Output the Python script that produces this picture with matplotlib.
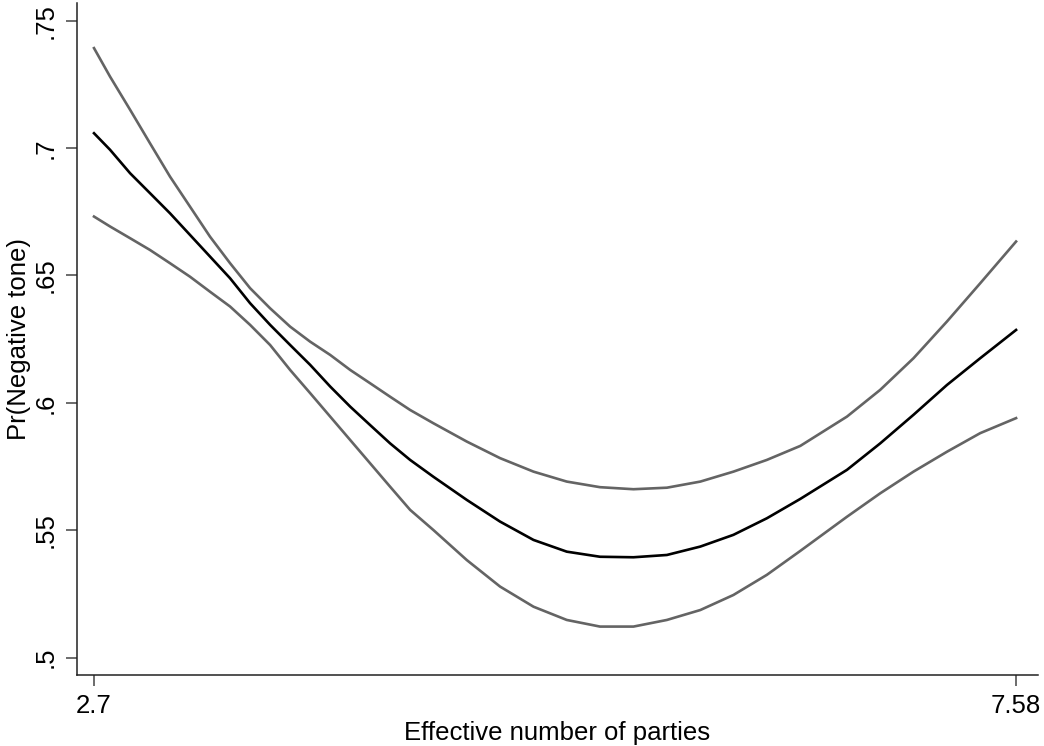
import matplotlib
matplotlib.use("Agg")
import matplotlib.pyplot as plt

plt.rcParams['font.family'] = ['Liberation Sans', 'DejaVu Sans']

enp = [2.700, 2.785, 2.891, 2.996, 3.102, 3.208, 3.314, 3.420, 3.526, 3.632,
       3.738, 3.844, 3.950, 4.056, 4.161, 4.267, 4.373, 4.496, 4.673, 4.849,
       5.026, 5.202, 5.378, 5.555, 5.732, 5.909, 6.084, 6.261, 6.438, 6.685,
       6.861, 7.037, 7.214, 7.390, 7.580]

pr_mean = [0.7058, 0.6993, 0.6901, 0.6823, 0.6744, 0.6659, 0.6574, 0.6489, 0.6391, 0.6306,
           0.6227, 0.6149, 0.6064, 0.5985, 0.5913, 0.5841, 0.5776, 0.5710, 0.5619, 0.5534,
           0.5462, 0.5416, 0.5396, 0.5394, 0.5403, 0.5436, 0.5482, 0.5547, 0.5623, 0.5737,
           0.5841, 0.5953, 0.6070, 0.6175, 0.6286]

pr_upper = [0.7392, 0.7280, 0.7150, 0.7019, 0.6888, 0.6770, 0.6652, 0.6548, 0.6450, 0.6371,
            0.6299, 0.6240, 0.6188, 0.6129, 0.6077, 0.6024, 0.5972, 0.5920, 0.5848, 0.5783,
            0.5730, 0.5691, 0.5669, 0.5661, 0.5667, 0.5691, 0.5730, 0.5776, 0.5831, 0.5946,
            0.6051, 0.6175, 0.6319, 0.6469, 0.6633]

pr_lower = [0.6731, 0.6692, 0.6646, 0.6600, 0.6548, 0.6495, 0.6436, 0.6378, 0.6306, 0.6227,
            0.6129, 0.6038, 0.5946, 0.5854, 0.5763, 0.5671, 0.5580, 0.5501, 0.5383, 0.5279,
            0.5200, 0.5148, 0.5122, 0.5122, 0.5148, 0.5187, 0.5246, 0.5325, 0.5419, 0.5553,
            0.5645, 0.5730, 0.5808, 0.5881, 0.5940]

y_ticks = [0.5, 0.55, 0.6, 0.65, 0.7, 0.75]
y_ticklabels = ['.5', '.55', '.6', '.65', '.7', '.75']
x_ticks = [2.7, 7.58]
x_ticklabels = ['2.7', '7.58']

fig = plt.figure(figsize=(10.44, 7.46), dpi=100)
ax = fig.add_axes([77/1044, 71/746, (1038-77)/1044, (675-3)/746])

gray = '#646464'
ax.plot(enp, pr_upper, color=gray, lw=1.9, solid_joinstyle='round')
ax.plot(enp, pr_lower, color=gray, lw=1.9, solid_joinstyle='round')
ax.plot(enp, pr_mean, color='black', lw=1.9, solid_joinstyle='round')

ax.set_xlim(2.61, 7.696)
ax.set_ylim(0.4932, 0.7569)

ax.set_yticks(y_ticks)
ax.set_yticklabels(y_ticklabels, rotation=90, va='center')
ax.set_xticks(x_ticks)
ax.set_xticklabels(x_ticklabels)

for s in ['top', 'right']:
    ax.spines[s].set_visible(False)
for s in ['left', 'bottom']:
    ax.spines[s].set_linewidth(1.1)
    ax.spines[s].set_color('#222222')

ax.tick_params(axis='both', length=8, width=1.1, color='#444444', labelsize=18.5, pad=6)

ax.set_xlabel('Effective number of parties', fontsize=18.5, labelpad=2)
ax.set_ylabel('Pr(Negative tone)', fontsize=18.5, labelpad=2)

fig.savefig('out.png', dpi=100, facecolor='white')
